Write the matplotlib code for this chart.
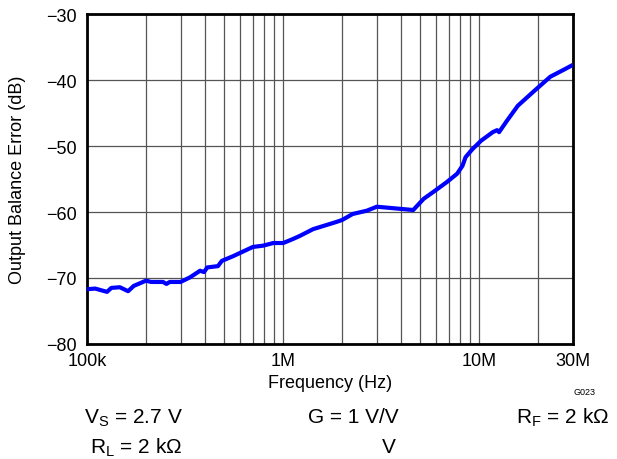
import matplotlib
matplotlib.use('Agg')
import matplotlib.pyplot as plt
from matplotlib.ticker import FixedLocator, NullFormatter
import numpy as np

plt.rcParams['font.family'] = ['Liberation Sans', 'DejaVu Sans']

# curve (Hz, dB)
freq = [1.0e5, 1.1e5, 1.265e5, 1.33e5, 1.47e5, 1.62e5, 1.73e5, 2.0e5, 2.12e5,
        2.44e5, 2.54e5, 2.64e5, 3.0e5, 3.35e5, 3.77e5, 3.95e5, 4.1e5, 4.65e5,
        4.87e5, 5.55e5, 7.0e5, 7.9e5, 8.9e5, 1.0e6, 1.12e6, 1.22e6, 1.42e6,
        1.87e6, 2.0e6, 2.26e6, 2.67e6, 3.0e6, 4.6e6, 5.2e6, 5.8e6, 6.8e6,
        7.7e6, 8.2e6, 8.5e6, 9.2e6, 1.02e7, 1.17e7, 1.23e7, 1.26e7, 1.38e7,
        1.57e7, 1.88e7, 2.3e7, 2.67e7, 3.0e7]
err = [-71.7, -71.6, -72.1, -71.5, -71.4, -72.0, -71.2, -70.4, -70.6,
       -70.6, -70.9, -70.6, -70.6, -69.9, -68.9, -69.1, -68.4, -68.2,
       -67.4, -66.7, -65.3, -65.1, -64.7, -64.7, -64.1, -63.6, -62.6,
       -61.5, -61.2, -60.3, -59.8, -59.2, -59.7, -58.0, -57.0, -55.5,
       -54.2, -53.0, -51.7, -50.5, -49.2, -47.9, -47.6, -47.9, -46.2,
       -43.9, -41.8, -39.5, -38.5, -37.7]

xticks = [1e5, 1e6, 1e7, 3e7]
xlabels = ['100k', '1M', '10M', '30M']
yticks = [-80, -70, -60, -50, -40, -30]

fig = plt.figure(figsize=(6.17, 4.6), dpi=100)
ax = fig.add_axes([87/617, 115/460, 486/617, 330/460])

ax.plot(freq, err, color='#0000FF', lw=3, solid_capstyle='butt', zorder=3)

ax.set_xscale('log')
ax.set_xlim(1e5, 3e7)
ax.set_ylim(-80, -30)

minors = [m * 10**e for e in range(5, 8) for m in range(2, 10) if m * 10**e < 3e7]
ax.xaxis.set_major_locator(FixedLocator(xticks))
ax.xaxis.set_minor_locator(FixedLocator(minors))
ax.xaxis.set_minor_formatter(NullFormatter())
ax.set_xticklabels(xlabels)
ax.set_yticks(yticks)
ax.set_yticklabels(['\u2212%d' % abs(v) for v in yticks])

ax.grid(True, which='both', axis='x', color='#555555', lw=0.9)
ax.grid(True, which='major', axis='y', color='#555555', lw=0.9)
ax.tick_params(which='both', length=0)
ax.tick_params(axis='y', pad=7.5, labelsize=13)
ax.tick_params(axis='x', pad=6, labelsize=13)
for s in ax.spines.values():
    s.set_linewidth(2)
    s.set_color('black')

ax.set_xlabel('Frequency (Hz)', fontsize=13, va='center')
ax.xaxis.set_label_coords((330 - 87) / 486, (345 - 384) / 330)
ax.set_ylabel('Output Balance Error (dB)', fontsize=13, va='center')
ax.yaxis.set_label_coords((18 - 87) / 486, (345 - 180) / 330)

fig.text(584/617, 1 - 393/460, 'G023', fontsize=6.5, ha='center', va='center')
fs = 15
fig.text(133/617, 1 - 418/460, r'V$_\mathregular{S}$ = 2.7 V', fontsize=fs, ha='center', va='center')
fig.text(353/617, 1 - 418/460, 'G = 1 V/V', fontsize=fs, ha='center', va='center')
fig.text(563/617, 1 - 418/460, 'R$_\\mathregular{F}$ = 2 k\u03a9', fontsize=fs, ha='center', va='center')
fig.text(136/617, 1 - 448/460, 'R$_\\mathregular{L}$ = 2 k\u03a9', fontsize=fs, ha='center', va='center')
fig.text(389/617, 1 - 448/460, 'V', fontsize=fs, ha='center', va='center')

fig.savefig('out.png', dpi=100)
